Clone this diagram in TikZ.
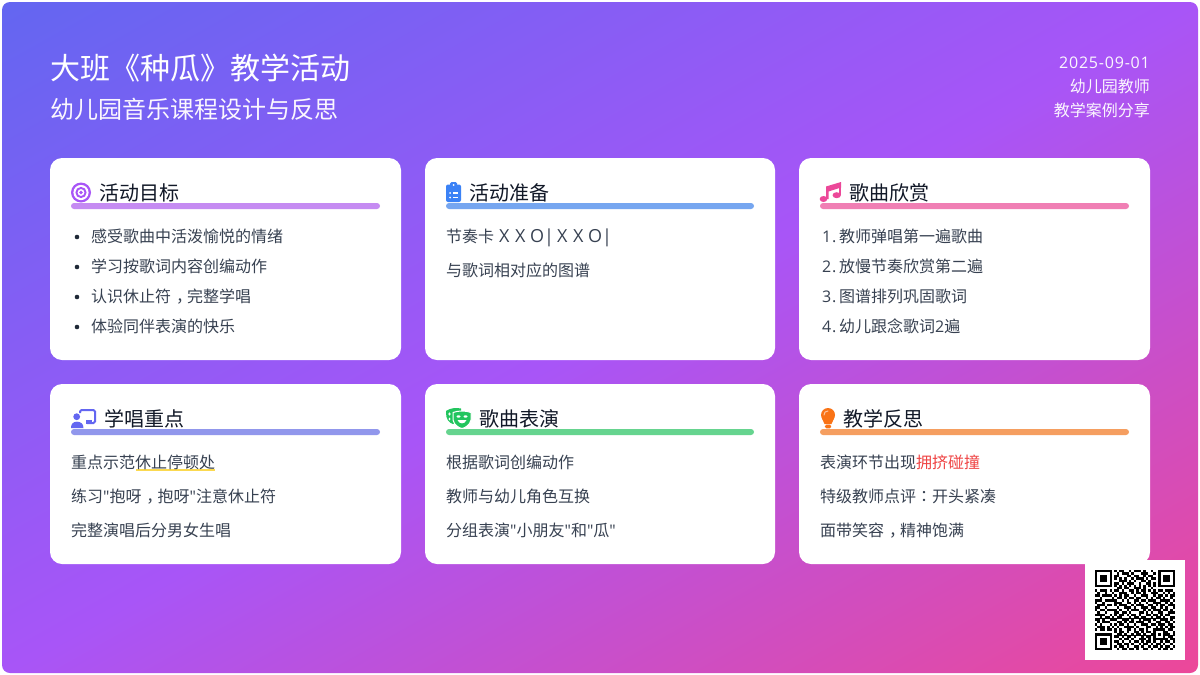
\documentclass[tikz,border=0pt]{standalone}
\usepackage{fontspec}
\setmainfont{Noto Sans CJK SC}
\newfontfamily\latfont[LetterSpace=5]{Open Sans}
\newfontfamily\tcfont{Noto Sans CJK TC}
\newcommand{\latin}[1]{{\latfont #1}}
\newcommand{\cma}{\makebox[1em][l]{\hspace{.3em}，}}
\newcommand{\cln}{{\tcfont ：}}
\newcommand{\bx}[2]{\makebox[#1pt][l]{#2}}
\definecolor{gA}{HTML}{6366F1}
\definecolor{gB}{HTML}{A855F7}
\definecolor{gC}{HTML}{EC4899}
\definecolor{cbody}{HTML}{374151}
\definecolor{cdot}{HTML}{1F2937}
\definecolor{chead}{HTML}{111827}
\definecolor{barA}{HTML}{C58BF2}
\definecolor{barB}{HTML}{76A6F0}
\definecolor{barC}{HTML}{F07FB4}
\definecolor{barD}{HTML}{9197EC}
\definecolor{barE}{HTML}{66D48F}
\definecolor{barF}{HTML}{F59E60}
\definecolor{icA}{HTML}{A855F7}
\definecolor{icB}{HTML}{3B82F6}
\definecolor{icC}{HTML}{EC4899}
\definecolor{icD}{HTML}{6366F1}
\definecolor{icE}{HTML}{22C55E}
\definecolor{icF}{HTML}{F97316}
\definecolor{hiY}{HTML}{FACC15}
\definecolor{hiR}{HTML}{EF4444}
\pgfdeclarehorizontalshading{bggrad}{100bp}{color(0bp)=(gA); color(29.17bp)=(gA); color(50bp)=(gB); color(70.83bp)=(gC); color(100bp)=(gC)}
\newcount\qrx
\newcount\qry
\def\qrscan#1{\ifx#1\relax\else\if#11\fill[black] (1095+\the\qrx*2.424,570+\the\qry*2.424) rectangle ++(2.47,2.47);\fi\advance\qrx by 1 \expandafter\qrscan\fi}
\def\qrrow#1{\qrx=0 \qrscan#1\relax\advance\qry by 1 }
\tikzset{
  body/.style={anchor=base west,inner sep=0pt,text=cbody,font=\fontsize{16}{20}\selectfont},
  head/.style={anchor=base west,inner sep=0pt,text=chead,font=\fontsize{20}{24}\selectfont},
  card/.style={fill=white,rounded corners=12pt},
  bar/.style={rounded corners=3pt},
  dotb/.style={fill=cdot},
  hdr/.style={inner sep=0pt,text=white},
}
\begin{document}
\begin{tikzpicture}[x=1pt,y=-1pt]
\useasboundingbox (0,0) rectangle (1200,675);
\fill[white] (0,0) rectangle (1200,675);
\begin{scope}
\clip[rounded corners=8pt] (2,2) rectangle (1198,673);
\path[shading=bggrad,shading angle=-60.7] (600-702,337.5-702) rectangle (600+702,337.5+702);
\end{scope}
% header
\node[hdr,anchor=base west,font=\fontsize{30}{36}\selectfont] (title) at (50,79.5) {大班《种瓜》教学活动};
\node[hdr,anchor=base west,text=white!95!gB,font=\fontsize{24}{30}\selectfont] (subtitle) at (50,118.5) {幼儿园音乐课程设计与反思};
\node[hdr,anchor=base east,text=white!95!gB,font=\fontsize{16}{20}\selectfont] (date) at (1150,68) {\latin{2025-09-01}};
\node[hdr,anchor=base east,text=white!95!gB,font=\fontsize{16}{20}\selectfont] (who) at (1150,92.5) {幼儿园教师};
\node[hdr,anchor=base east,text=white!95!gB,font=\fontsize{16}{20}\selectfont] (kind) at (1150,116.5) {教学案例分享};
% cards
\path[card] (50,158) rectangle (401,360);
\path[card] (425,158) rectangle (775,360);
\path[card] (799,158) rectangle (1150,360);
\path[card] (50,384) rectangle (401,564);
\path[card] (425,384) rectangle (775,564);
\path[card] (799,384) rectangle (1150,564);
% titles
\node[head] (h1) at (99,200.5) {活动目标};
\node[head] (h2) at (469,200.5) {活动准备};
\node[head] (h3) at (849,200.5) {歌曲欣赏};
\node[head] (h4) at (104,426.5) {学唱重点};
\node[head] (h5) at (479,426.5) {歌曲表演};
\node[head] (h6) at (843,426.5) {教学反思};
% bars
\fill[bar,barA] (71,203) rectangle (380,209);
\fill[bar,barB] (446,203) rectangle (754,209);
\fill[bar,barC] (820,203) rectangle (1129,209);
\fill[bar,barD] (71,429) rectangle (380,435);
\fill[bar,barE] (446,429) rectangle (754,435);
\fill[bar,barF] (820,429) rectangle (1129,435);
% icon target
\fill[icA] (81,192.5) circle (10);
\fill[white] (81,192.5) circle (7.6);
\fill[icA] (81,192.5) circle (5.6);
\fill[white] (81,192.5) circle (3.4);
\fill[icA] (81,192.5) circle (1.8);
% icon clipboard
\fill[icB,rounded corners=2pt] (446,184.5) rectangle (461,202);
\fill[icB,rounded corners=1.5pt] (450,182) rectangle (457,188);
\fill[white] (453.5,185) circle (1);
\fill[white] (450,193) circle (1);
\fill[white] (450,197.5) circle (1);
\fill[white] (452.5,192.3) rectangle (458,193.7);
\fill[white] (452.5,196.8) rectangle (458,198.2);
% icon music
\fill[icC] (826,186.5) -- (841,182) -- (841,187.5) -- (828.5,191.5) -- (828.5,199) -- (826,199) -- cycle;
\fill[icC] (838.5,184) rectangle (841,195);
\fill[icC] (823.5,199) ellipse (3.8 and 3);
\fill[icC] (836.7,195.2) ellipse (4.2 and 3);
% icon teacher
\draw[icD,line width=2pt,rounded corners=1.5pt] (80,413) -- (80,410) -- (95,410) -- (95,423) -- (87,423);
\fill[icD] (85.5,420) rectangle (92,424);
\fill[icD] (76.7,416.7) circle (3.4);
\fill[icD] (71,428) .. controls (71,424) and (73,421.7) .. (77,421.7) .. controls (81,421.7) and (83.5,424) .. (83.5,428) -- cycle;
% icon masks
\fill[icE] (446,411) .. controls (450,408) and (456,407.5) .. (461,408.5) -- (461,417) .. controls (460,421) and (455,424) .. (453,424) .. controls (449,423) and (446,419) .. (446,413) -- cycle;
\fill[white] (449.5,414) ellipse (1.2 and 1.6);
\fill[white] (449.5,419) ellipse (1 and 1.4);
\filldraw[icE,draw=white,line width=1pt] (453,412.5) .. controls (458,410.5) and (466,410.5) .. (471,412.5) -- (471,420) .. controls (470,425) and (465,428) .. (462,428.5) .. controls (459,428) and (454,425) .. (453,420) -- cycle;
\fill[white] (458.5,416.5) ellipse (2 and 1.2);
\fill[white] (465.5,416.5) ellipse (2 and 1.2);
\fill[white] (457.5,420) .. controls (459,424.5) and (465,424.5) .. (466.5,420) -- cycle;
% icon bulb
\fill[icF] (828,415) circle (7);
\fill[icF] (822,418.5) -- (834,418.5) -- (831.5,424) -- (824.5,424) -- cycle;
\fill[icF,rounded corners=1.5pt] (824.8,424.7) rectangle (831.2,428.3);
\draw[white!60!icF,line width=1pt,line cap=round] (824,415) .. controls (824,412.5) and (825.5,411) .. (828,411);
% card 1
\fill[dotb] (77,237) circle (2.3);
\fill[dotb] (77,267) circle (2.3);
\fill[dotb] (77,297) circle (2.3);
\fill[dotb] (77,327) circle (2.3);
\node[body] (a1) at (91,242.5) {感受歌曲中活泼愉悦的情绪};
\node[body] (a2) at (91,272.5) {学习按歌词内容创编动作};
\node[body] (a3) at (91,302.5) {认识休止符\cma 完整学唱};
\node[body] (a4) at (91,332.5) {体验同伴表演的快乐};
% card 2
\node[body] (b1) at (446,242.5) {节奏卡\hspace{5pt}{\fontsize{18}{20}\selectfont\latfont\bx{16}{X}\bx{15}{X}\bx{14}{O}\bx{13}{|}\bx{16}{X}\bx{15}{X}\bx{14}{O}\bx{9}{|}}};
\node[body] (b2) at (446,276.5) {与歌词相对应的图谱};
% card 3
\node[body] (c1) at (822,242.5) {\latin{1.}\hspace{2.7pt}教师弹唱第一遍歌曲};
\node[body] (c2) at (822,272.5) {\latin{2.}\hspace{2.7pt}放慢节奏欣赏第二遍};
\node[body] (c3) at (822,302.5) {\latin{3.}\hspace{2.7pt}图谱排列巩固歌词};
\node[body] (c4) at (822,332.5) {\latin{4.}\hspace{2.7pt}幼儿跟念歌词\latin{2}遍};
% card 4
\fill[hiY!75!white] (135.5,469.2) rectangle (215,470.7);
\node[body] (d1) at (71,468.5) {重点示范休止停顿处};
\node[body] (d2) at (71,502.5) {练习\latin{"}抱呀\cma 抱呀\latin{"}注意休止符};
\node[body] (d3) at (71,536.5) {完整演唱后分男女生唱};
% card 5
\node[body] (e1) at (446,468.5) {根据歌词创编动作};
\node[body] (e2) at (446,502.5) {教师与幼儿角色互换};
\node[body] (e3) at (446,536.5) {分组表演\latin{"}小朋友\latin{"}和\latin{"}瓜\latin{"}};
% card 6
\node[body] (f1) at (820,468.5) {表演环节出现\textcolor{hiR}{拥挤碰撞}};
\node[body] (f2) at (820,502.5) {特级教师点评\cln 开头紧凑};
\node[body] (f3) at (820,536.5) {面带笑容\cma 精神饱满};
% QR
\fill[white] (1085,560) rectangle (1185,660);
\qry=0
\qrrow{1111111 0 10110010111010010 0 1111111}
\qrrow{1000001 0 01011101000111001 0 1000001}
\qrrow{1011101 0 11000110110010110 0 1011101}
\qrrow{1011101 0 10101001011101011 0 1011101}
\qrrow{1011101 0 00111010100110100 0 1011101}
\qrrow{1000001 0 11010111001001101 0 1000001}
\qrrow{1111111 0 10101010101010101 0 1111111}
\qrrow{0000000 0 01101100111010010 0 0000000}
\qrrow{101110101101001101011010101101110}
\qrrow{010010010011100101101001110010101}
\qrrow{110111101010110010011100101101011}
\qrrow{001000010110101101100101011010010}
\qrrow{111011111001010011011011100111101}
\qrrow{100100001110011010100100111001010}
\qrrow{011101101011100101110011010110111}
\qrrow{110010000100111010011101100101001}
\qrrow{101101111010010111001010111011010}
\qrrow{010010001101101000110101001100111}
\qrrow{111100101011010110100110110101100}
\qrrow{001011010110001011011001011010011}
\qrrow{110100111001110100101110100111010}
\qrrow{010111000110101101110010011001101}
\qrrow{101000101011010010011101101110110}
\qrrow{011101010100111101000110010101011}
\qrrow{101101101010011010110100 11111 0110}
\qrrow{00000000 1011010011010110 10001 1001}
\qrrow{1111111 0 0110100101101001 10101 1101}
\qrrow{1000001 0 1101011010010110 10001 0110}
\qrrow{1011101 0 0010110100111010 11111 1011}
\qrrow{1011101 0 1101001011010110100101101}
\qrrow{1011101 0 0110110100101101011010010}
\qrrow{1000001 0 1011010011010010110101101}
\qrrow{1111111 0 0101101101001101001011010}
\end{tikzpicture}
\end{document}
